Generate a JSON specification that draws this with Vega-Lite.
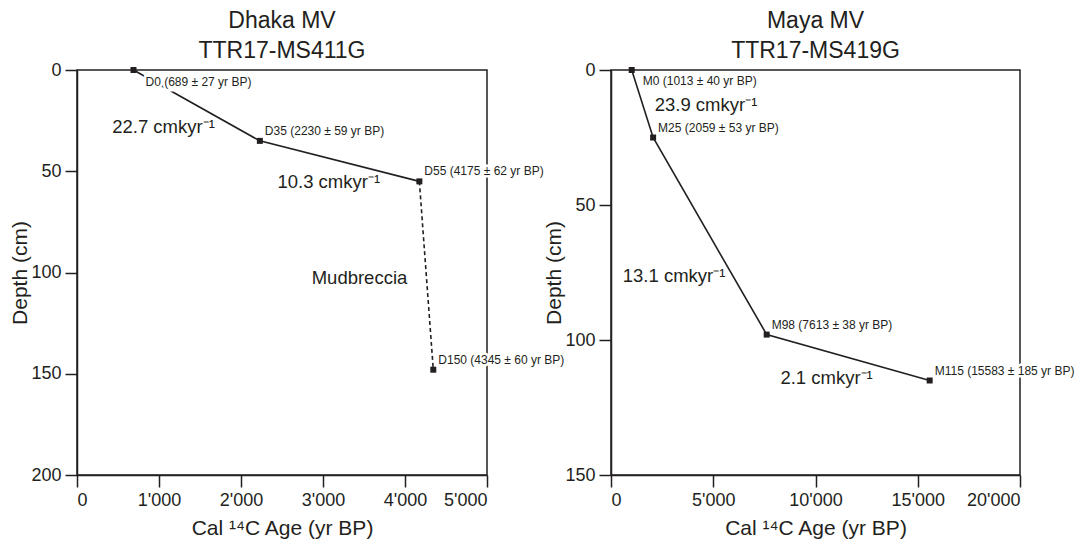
{
  "$schema": "https://vega.github.io/schema/vega-lite/v6.json",
  "background": "white",
  "padding": {"left": 9, "top": 9, "right": 2, "bottom": 2},
  "bounds": "flush",
  "spacing": 124,
  "config": {
    "font": "Liberation Sans",
    "view": {"stroke": "#231f20", "strokeWidth": 1.5},
    "axis": {
      "grid": false,
      "domainColor": "#231f20", "domainWidth": 1.5,
      "tickColor": "#231f20", "tickWidth": 1.5, "tickSize": 12,
      "labelFont": "Liberation Sans", "labelFontSize": 18, "labelColor": "#231f20", "labelPadding": 4,
      "titleFont": "Liberation Sans", "titleFontSize": 21, "titleFontWeight": "normal", "titleColor": "#231f20"
    },
    "axisX": {"titlePadding": 8},
    "axisY": {"titlePadding": 0},
    "title": {"font": "Liberation Sans", "fontSize": 23, "fontWeight": "normal", "color": "#231f20", "lineHeight": 30, "offset": -2, "anchor": "middle"}
  },
  "datasets": {
    "dhaka": [
      {"sample": "D0", "age": 689, "depth": 0, "label": "D0 (689 ± 27 yr BP)"},
      {"sample": "D35", "age": 2230, "depth": 35, "label": "D35 (2230 ± 59 yr BP)"},
      {"sample": "D55", "age": 4175, "depth": 55, "label": "D55 (4175 ± 62 yr BP)"},
      {"sample": "D150", "age": 4345, "depth": 148, "label": "D150 (4345 ± 60 yr BP)"}
    ],
    "dhaka_notes": [
      {"text": "22.7 cmkyr⁻¹", "age": 1055, "depth": 28},
      {"text": "10.3 cmkyr⁻¹", "age": 3070, "depth": 55.5},
      {"text": "Mudbreccia", "age": 3445, "depth": 102.5}
    ],
    "maya": [
      {"sample": "M0", "age": 1013, "depth": 0, "label": "M0 (1013 ± 40 yr BP)"},
      {"sample": "M25", "age": 2059, "depth": 25, "label": "M25 (2059 ± 53 yr BP)"},
      {"sample": "M98", "age": 7613, "depth": 98, "label": "M98 (7613 ± 38 yr BP)"},
      {"sample": "M115", "age": 15583, "depth": 115, "label": "M115 (15583 ± 185 yr BP)"}
    ],
    "maya_notes": [
      {"text": "23.9 cmkyr⁻¹", "age": 4645, "depth": 13},
      {"text": "13.1 cmkyr⁻¹", "age": 3085, "depth": 76.3},
      {"text": "2.1 cmkyr⁻¹", "age": 10543, "depth": 114}
    ]
  },
  "hconcat": [
    {
      "width": 410,
      "height": 405,
      "title": {"text": ["Dhaka MV", "TTR17-MS411G"]},
      "encoding": {
        "x": {"field": "age", "type": "quantitative",
              "scale": {"domain": [0, 5000], "nice": false, "zero": false},
              "axis": {"values": [0, 1000, 2000, 3000, 4000, 5000], "title": "Cal ¹⁴C Age (yr BP)",
                       "labelExpr": "replace(format(datum.value, ','), ',', \"'\")"}},
        "y": {"field": "depth", "type": "quantitative",
              "scale": {"domain": [0, 200], "reverse": true, "nice": false, "zero": false},
              "axis": {"values": [0, 50, 100, 150, 200], "title": "Depth (cm)"}}
      },
      "layer": [
        {"data": {"name": "dhaka"}, "transform": [{"filter": "datum.depth <= 55"}],
         "mark": {"type": "line", "color": "#231f20", "strokeWidth": 1.6},
         "encoding": {"order": {"field": "depth", "type": "quantitative"}}},
        {"data": {"name": "dhaka"}, "transform": [{"filter": "datum.depth >= 55"}],
         "mark": {"type": "line", "color": "#231f20", "strokeWidth": 1.6, "strokeDash": [4, 3]},
         "encoding": {"order": {"field": "depth", "type": "quantitative"}}},
        {"data": {"name": "dhaka"}, "transform": [{"filter": "datum.depth == 0"}],
         "mark": {"type": "text", "align": "left", "baseline": "middle", "dx": 12, "dy": 12, "fontSize": 12, "fill": "white", "stroke": "white", "strokeWidth": 5},
         "encoding": {"text": {"field": "label"}}},
        {"data": {"name": "dhaka"}, "transform": [{"filter": "datum.depth > 0"}],
         "mark": {"type": "text", "align": "left", "baseline": "middle", "dx": 5, "dy": -10, "fontSize": 12, "fill": "white", "stroke": "white", "strokeWidth": 5},
         "encoding": {"text": {"field": "label"}}},
        {"data": {"name": "dhaka"},
         "mark": {"type": "square", "size": 36, "filled": true, "color": "#231f20", "opacity": 1}},
        {"data": {"name": "dhaka"}, "transform": [{"filter": "datum.depth == 0"}],
         "mark": {"type": "text", "align": "left", "baseline": "middle", "dx": 12, "dy": 12, "fontSize": 12, "color": "#231f20"},
         "encoding": {"text": {"field": "label"}}},
        {"data": {"name": "dhaka"}, "transform": [{"filter": "datum.depth > 0"}],
         "mark": {"type": "text", "align": "left", "baseline": "middle", "dx": 5, "dy": -10, "fontSize": 12, "color": "#231f20"},
         "encoding": {"text": {"field": "label"}}},
        {"data": {"name": "dhaka_notes"},
         "mark": {"type": "text", "align": "center", "baseline": "middle", "fontSize": 18.5, "color": "#231f20"},
         "encoding": {"text": {"field": "text"}}}
      ]
    },
    {
      "width": 409,
      "height": 405,
      "title": {"text": ["Maya MV", "TTR17-MS419G"]},
      "encoding": {
        "x": {"field": "age", "type": "quantitative",
              "scale": {"domain": [0, 20000], "nice": false, "zero": false},
              "axis": {"values": [0, 5000, 10000, 15000, 20000], "title": "Cal ¹⁴C Age (yr BP)",
                       "labelExpr": "replace(format(datum.value, ','), ',', \"'\")"}},
        "y": {"field": "depth", "type": "quantitative",
              "scale": {"domain": [0, 150], "reverse": true, "nice": false, "zero": false},
              "axis": {"values": [0, 50, 100, 150], "title": "Depth (cm)"}}
      },
      "layer": [
        {"data": {"name": "maya"},
         "mark": {"type": "line", "color": "#231f20", "strokeWidth": 1.6},
         "encoding": {"order": {"field": "depth", "type": "quantitative"}}},
        {"data": {"name": "maya"}, "transform": [{"filter": "datum.depth == 0"}],
         "mark": {"type": "text", "align": "left", "baseline": "middle", "dx": 11, "dy": 11, "fontSize": 12, "fill": "white", "stroke": "white", "strokeWidth": 5},
         "encoding": {"text": {"field": "label"}}},
        {"data": {"name": "maya"}, "transform": [{"filter": "datum.depth > 0"}],
         "mark": {"type": "text", "align": "left", "baseline": "middle", "dx": 5, "dy": -10, "fontSize": 12, "fill": "white", "stroke": "white", "strokeWidth": 5},
         "encoding": {"text": {"field": "label"}}},
        {"data": {"name": "maya"},
         "mark": {"type": "square", "size": 36, "filled": true, "color": "#231f20", "opacity": 1}},
        {"data": {"name": "maya"}, "transform": [{"filter": "datum.depth == 0"}],
         "mark": {"type": "text", "align": "left", "baseline": "middle", "dx": 11, "dy": 11, "fontSize": 12, "color": "#231f20"},
         "encoding": {"text": {"field": "label"}}},
        {"data": {"name": "maya"}, "transform": [{"filter": "datum.depth > 0"}],
         "mark": {"type": "text", "align": "left", "baseline": "middle", "dx": 5, "dy": -10, "fontSize": 12, "color": "#231f20"},
         "encoding": {"text": {"field": "label"}}},
        {"data": {"name": "maya_notes"},
         "mark": {"type": "text", "align": "center", "baseline": "middle", "fontSize": 18.5, "color": "#231f20"},
         "encoding": {"text": {"field": "text"}}}
      ]
    }
  ]
}
